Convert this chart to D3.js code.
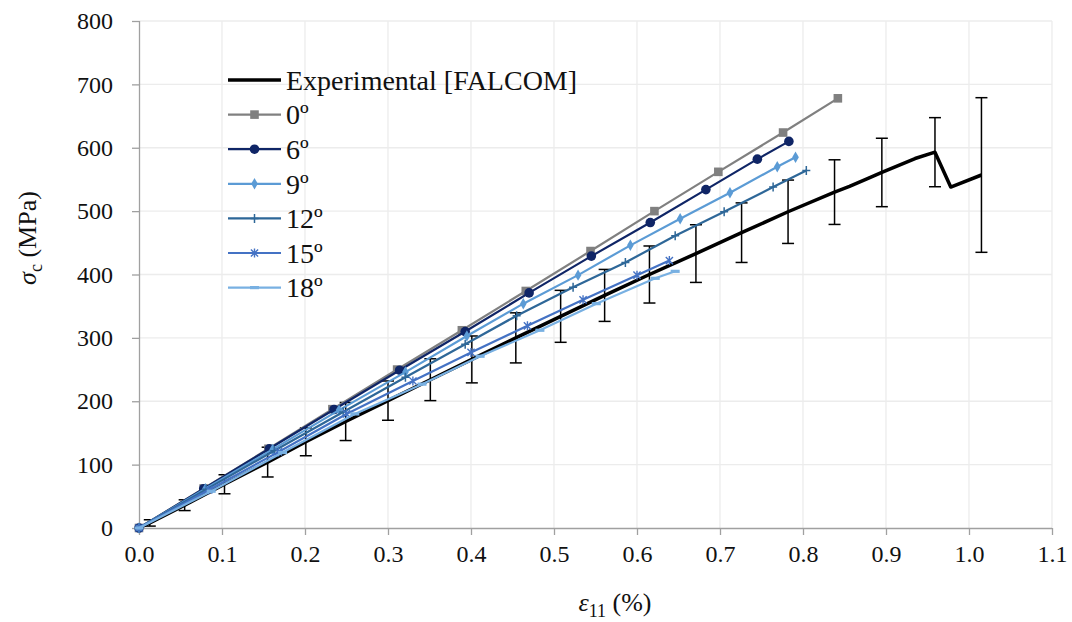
<!DOCTYPE html>
<html>
<head>
<meta charset="utf-8">
<script src="https://cdn.jsdelivr.net/npm/d3@7/dist/d3.min.js"></script>
<style>
  body { margin: 0; background: #fff; }
  svg { display: block; }
  svg text { font-family: "Liberation Serif", "Times New Roman", Times, serif; }
</style>
</head>
<body>
<svg id="chart" width="1072" height="622"></svg>
<script>
// experimental curve with error bars
const expStrain = [0, 0.013, 0.055, 0.103, 0.155, 0.201, 0.249, 0.300, 0.351, 0.401, 0.454, 0.508, 0.561, 0.615, 0.671, 0.726, 0.782, 0.838, 0.856, 0.877, 0.895, 0.935, 0.959, 0.978, 1.015];
const expStress = [0, 8, 36, 69, 104, 136, 168, 201, 234, 266, 300, 334, 367, 400, 433, 466, 499, 530, 539, 551, 561, 583, 593, 538, 557];
const expError  = [null, 5, 8.5, 15, 23.5, 22, 30, 31, 33, 37, 39.5, 41, 41, 45, 45.5, 47, 50, 51, null, null, 54, null, 54.5, null, 122];

// simulations, misalignment angle
const strain0  = [0, 0.078, 0.156, 0.233, 0.311, 0.389, 0.466, 0.544, 0.621, 0.698, 0.776, 0.842];
const stress0  = [0, 62.5, 125, 187.5, 250, 312, 374, 437, 500, 562, 624, 678];
const strain6  = [0, 0.078, 0.157, 0.235, 0.314, 0.393, 0.470, 0.545, 0.616, 0.683, 0.745, 0.783];
const stress6  = [0, 62, 125, 187, 249, 310, 371, 429, 482, 534, 582, 610];
const strain9  = [0, 0.080, 0.161, 0.241, 0.321, 0.395, 0.463, 0.529, 0.592, 0.652, 0.712, 0.769, 0.791];
const stress9  = [0, 62, 124, 186, 246, 303, 354, 399, 446, 488, 529, 570, 585];
const strain12 = [0, 0.081, 0.163, 0.246, 0.321, 0.393, 0.455, 0.523, 0.586, 0.646, 0.705, 0.764, 0.804];
const stress12 = [0, 61, 122, 183, 238, 290, 335, 380, 419, 461, 499, 538, 564];
const strain15 = [0, 0.084, 0.168, 0.250, 0.330, 0.400, 0.468, 0.535, 0.600, 0.639];
const stress15 = [0, 60, 120, 180, 232, 277, 319, 360, 399, 422];
const strain18 = [0, 0.087, 0.173, 0.260, 0.341, 0.411, 0.483, 0.551, 0.622, 0.646];
const stress18 = [0, 58, 119, 180, 227, 271, 312, 354, 394, 405];

const seriesNames = ['0º', '6º', '9º', '12º', '15º', '18º'];
const xTicks = [0, 0.1, 0.2, 0.3, 0.4, 0.5, 0.6, 0.7, 0.8, 0.9, 1.0, 1.1];
const yTicks = [0, 100, 200, 300, 400, 500, 600, 700, 800];

const series = [
  {name: seriesNames[0], xs: strain0,  ys: stress0,  color: '#808080', marker: 'square'},
  {name: seriesNames[1], xs: strain6,  ys: stress6,  color: '#0f2566', marker: 'circle'},
  {name: seriesNames[2], xs: strain9,  ys: stress9,  color: '#5b9bd5', marker: 'diamond'},
  {name: seriesNames[3], xs: strain12, ys: stress12, color: '#2e6798', marker: 'plus'},
  {name: seriesNames[4], xs: strain15, ys: stress15, color: '#4472c4', marker: 'star'},
  {name: seriesNames[5], xs: strain18, ys: stress18, color: '#78b0e2', marker: 'dash'}
];

const svg = d3.select('#chart');
const plotLeft = 139, plotRight = 1052, plotTop = 21, plotBottom = 528;

const x = d3.scaleLinear().domain([0, 1.1]).range([plotLeft, plotRight]);
const y = d3.scaleLinear().domain([0, 800]).range([plotBottom, plotTop]);

// grid
svg.append('g')
  .selectAll('line')
  .data(xTicks.slice(1))
  .enter().append('line')
  .attr('x1', d => x(d)).attr('x2', d => x(d))
  .attr('y1', plotTop).attr('y2', plotBottom)
  .attr('stroke', '#ececec').attr('stroke-width', 1.3);
svg.append('g')
  .selectAll('line')
  .data(yTicks.slice(1))
  .enter().append('line')
  .attr('x1', plotLeft).attr('x2', plotRight)
  .attr('y1', d => y(d)).attr('y2', d => y(d))
  .attr('stroke', '#ececec').attr('stroke-width', 1.3);

// axes
const xAxis = svg.append('g')
  .attr('transform', `translate(0,${plotBottom})`)
  .call(d3.axisBottom(x).tickValues(xTicks).tickFormat(d3.format('.1f')).tickSize(7).tickPadding(10));
const yAxis = svg.append('g')
  .attr('transform', `translate(${plotLeft},0)`)
  .call(d3.axisLeft(y).tickValues(yTicks).tickSize(7).tickPadding(19));

[xAxis, yAxis].forEach(ax => {
  ax.attr('font-family', null);
  ax.select('.domain').attr('stroke', '#a0a0a0').attr('stroke-width', 1.3);
  ax.selectAll('.tick line').attr('stroke', '#a0a0a0').attr('stroke-width', 1.3);
  ax.selectAll('.tick text')
    .attr('font-size', 24).attr('fill', '#111');
});
// domain path has outer ticks; redraw plain
xAxis.select('.domain').attr('d', `M${plotLeft},0.5H${plotRight}`);
yAxis.select('.domain').attr('d', `M0.5,${plotBottom}V${plotTop}`);

// axis titles
const xt = svg.append('text')
  .attr('x', 615).attr('y', 611)
  .attr('text-anchor', 'middle')
  .attr('font-size', 26).attr('fill', '#111');
xt.append('tspan').attr('font-style', 'italic').text('ε');
xt.append('tspan').attr('font-size', 18).attr('dy', 6).text('11');
xt.append('tspan').attr('dy', -6).text(' (%)');

const yt = svg.append('text')
  .attr('transform', 'translate(36,238) rotate(-90)')
  .attr('text-anchor', 'middle')
  .attr('font-size', 26).attr('fill', '#111');
yt.append('tspan').attr('font-style', 'italic').text('σ');
yt.append('tspan').attr('font-size', 18).attr('dy', 6).text('c');
yt.append('tspan').attr('dy', -6).text('  (MPa)');

const line = d3.line().x(d => x(d[0])).y(d => y(d[1]));

// experimental
const expData = expStrain.map((s, i) => [s, expStress[i], expError[i]]);
svg.append('path')
  .datum(expData)
  .attr('d', line)
  .attr('fill', 'none')
  .attr('stroke', '#000')
  .attr('stroke-width', 3.5)
  .attr('stroke-linejoin', 'round');

const bars = svg.append('g').attr('stroke', '#000').attr('stroke-width', 1.5);
expData.filter(d => d[2] !== null).forEach(d => {
  const cx = x(d[0]), y1 = y(d[1] + d[2]), y2 = y(d[1] - d[2]);
  bars.append('line').attr('x1', cx).attr('x2', cx).attr('y1', y1).attr('y2', y2);
  bars.append('line').attr('x1', cx - 6).attr('x2', cx + 6).attr('y1', y1).attr('y2', y1);
  bars.append('line').attr('x1', cx - 6).attr('x2', cx + 6).attr('y1', y2).attr('y2', y2);
});

function drawMarker(g, kind, color) {
  if (kind === 'square') {
    g.append('rect').attr('x', -4.3).attr('y', -4.3).attr('width', 8.6).attr('height', 8.6).attr('fill', color);
  } else if (kind === 'circle') {
    g.append('circle').attr('r', 4.8).attr('fill', color);
  } else if (kind === 'diamond') {
    g.append('path').attr('d', d3.symbol(d3.symbolDiamond, 38)()).attr('fill', color);
  } else if (kind === 'plus') {
    g.append('path').attr('d', 'M-4,0H4M0,-4.5V4.5').attr('stroke', color).attr('stroke-width', 1.5);
  } else if (kind === 'star') {
    g.append('path').attr('d', 'M-3.6,-3.6L3.6,3.6M-3.6,3.6L3.6,-3.6M0,-4.5V4.5')
      .attr('stroke', color).attr('stroke-width', 1.4);
  } else if (kind === 'dash') {
    g.append('rect').attr('x', -4.5).attr('y', -1.6).attr('width', 9).attr('height', 3.2).attr('fill', color);
  }
}

series.forEach(s => {
  const pts = s.xs.map((v, i) => [v, s.ys[i]]);
  svg.append('path')
    .datum(pts)
    .attr('d', line)
    .attr('fill', 'none')
    .attr('stroke', s.color)
    .attr('stroke-width', 2.2)
    .attr('stroke-linejoin', 'round');
  svg.append('g').selectAll('g')
    .data(pts)
    .enter().append('g')
    .attr('transform', d => `translate(${x(d[0])},${y(d[1])})`)
    .each(function () { drawMarker(d3.select(this), s.marker, s.color); });
});

// legend
const legend = svg.append('g').attr('transform', 'translate(228,80)');
const rowH = 34.6;
const lg0 = legend.append('g');
lg0.append('line').attr('x1', 0).attr('x2', 53).attr('stroke', '#000').attr('stroke-width', 3.5);
lg0.append('text').attr('x', 58).attr('dy', '0.35em').attr('font-size', 28).attr('fill', '#111')
  .text('Experimental [FALCOM]');
series.forEach((s, i) => {
  const g = legend.append('g').attr('transform', `translate(0,${rowH * (i + 1)})`);
  g.append('line').attr('x1', 0).attr('x2', 53).attr('stroke', s.color).attr('stroke-width', 2.2);
  const m = g.append('g').attr('transform', 'translate(26.5,0)');
  drawMarker(m, s.marker, s.color);
  g.append('text').attr('x', 58).attr('dy', '0.35em').attr('font-size', 28).attr('fill', '#111')
    .text(s.name);
});
</script>
</body>
</html>
